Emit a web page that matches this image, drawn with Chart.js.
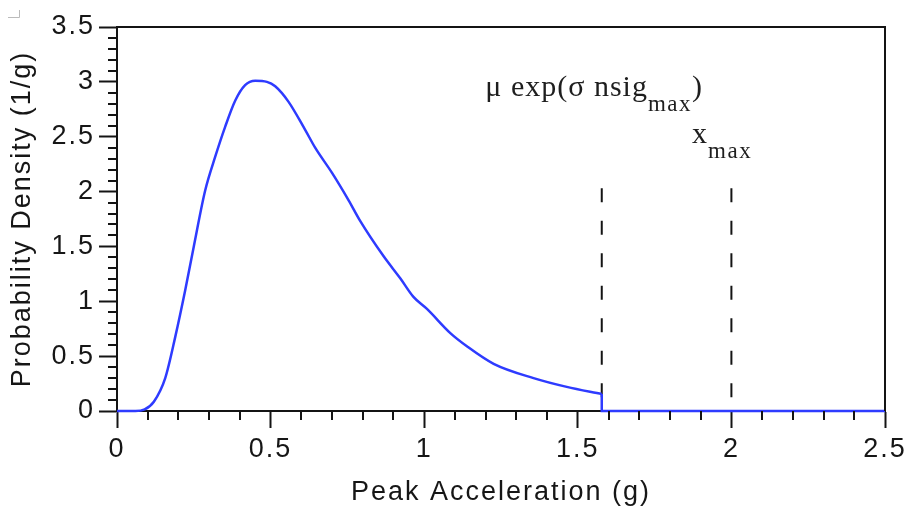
<!DOCTYPE html>
<html>
<head>
<meta charset="utf-8">
<script src="https://cdn.jsdelivr.net/npm/chart.js@4.4.1/dist/chart.umd.min.js"></script>
<style>
  html, body { margin: 0; padding: 0; background: #fff; }
  #wrap { position: relative; width: 911px; height: 509px; }
</style>
</head>
<body>
<div id="wrap"><canvas id="pdf-chart"></canvas></div>
<script>
// density curve (peak acceleration in g, density in 1/g)
var peakAccel = [0, 0.06, 0.09, 0.12, 0.157, 0.19, 0.222, 0.25, 0.287, 0.32, 0.352, 0.385, 0.417, 0.45,
                 0.488, 0.515, 0.558, 0.613, 0.645, 0.70, 0.754, 0.79, 0.868, 0.922, 0.965, 1.009,
                 1.085, 1.139, 1.226, 1.356, 1.464, 1.578];
var density = [0, 0, 0.015, 0.085, 0.30, 0.68, 1.10, 1.50, 2.01, 2.32, 2.59, 2.83, 2.97, 3.01,
               3.0, 2.96, 2.82, 2.56, 2.40, 2.17, 1.92, 1.74, 1.41, 1.21, 1.04, 0.93,
               0.71, 0.59, 0.43, 0.30, 0.22, 0.155];

// truncated tail: drop to zero and stay there
var tailX = [1.578, 1.578, 2.5];
var tailY = [0.155, 0, 0];

// vertical markers: mu*exp(sigma*nsig_max) and x_max
var markerX = [1.578, 2.0];
var markerTop = 2.03;

var xTickValues = [0, 0.5, 1, 1.5, 2, 2.5];
var yTickValues = [0, 0.5, 1, 1.5, 2, 2.5, 3, 3.5];
var minorStep = 0.1;

var ink = '#141414';
var textInk = '#161616';
var blue = '#2e3bff';

function pairs(xs, ys) {
    return xs.map(function (x, i) { return { x: x, y: ys[i] }; });
}

var datasets = [
    {
        data: pairs(peakAccel, density),
        borderColor: blue,
        borderWidth: 2.5,
        pointRadius: 0,
        cubicInterpolationMode: 'monotone',
        clip: false,
        order: 0
    },
    {
        data: pairs(tailX, tailY),
        borderColor: blue,
        borderWidth: 2.5,
        pointRadius: 0,
        tension: 0,
        clip: false,
        order: 0
    }
];
markerX.forEach(function (mx) {
    datasets.push({
        data: [{ x: mx, y: markerTop }, { x: mx, y: 0 }],
        borderColor: ink,
        borderWidth: 2,
        borderDash: [14, 18.5],
        pointRadius: 0,
        tension: 0,
        order: 1
    });
});

// minor ticks, top/right frame and the serif annotations
var decorations = {
    id: 'decorations',
    beforeDraw: function (chart) {
        chart.ctx.letterSpacing = '2px';
    },
    afterDraw: function (chart) {
        var ctx = chart.ctx;
        var xs = chart.scales.x, ys = chart.scales.y;
        var area = chart.chartArea;
        ctx.save();
        ctx.strokeStyle = ink;
        ctx.lineWidth = 2;

        // frame top and right
        ctx.beginPath();
        ctx.moveTo(area.left, area.top);
        ctx.lineTo(area.right, area.top);
        ctx.lineTo(area.right, area.bottom);
        ctx.stroke();

        // minor ticks
        ctx.beginPath();
        var i, v, p;
        for (i = 0; i <= 25; i++) {
            if (i % 5 === 0) continue;
            v = i * minorStep;
            p = Math.round(xs.getPixelForValue(v));
            ctx.moveTo(p, area.bottom);
            ctx.lineTo(p, area.bottom + 9);
        }
        for (i = 0; i <= 35; i++) {
            if (i % 5 === 0) continue;
            v = i * minorStep;
            p = Math.round(ys.getPixelForValue(v));
            ctx.moveTo(area.left, p);
            ctx.lineTo(area.left - 9, p);
        }
        ctx.stroke();

        // annotations
        var notes = [
            { x: 1.199, y: 2.874, parts: [['\u03bc exp(\u03c3 nsig', 0], ['max', 1], [')', 0]] },
            { x: 1.872, y: 2.443, parts: [['x', 0], ['max', 1]] }
        ];
        ctx.fillStyle = '#1e1e1e';
        ctx.textAlign = 'left';
        ctx.textBaseline = 'alphabetic';
        ctx.letterSpacing = '1px';
        notes.forEach(function (n) {
            var px = xs.getPixelForValue(n.x);
            var py = ys.getPixelForValue(n.y);
            n.parts.forEach(function (part) {
                var sub = part[1] === 1;
                ctx.font = (sub ? '23px' : '30px') + ' "Liberation Serif", serif';
                ctx.letterSpacing = sub ? '1.5px' : '1px';
                ctx.fillText(part[0], px, py + (sub ? 15 : 0));
                px += ctx.measureText(part[0]).width;
            });
        });

        // small corner mark at the top left
        ctx.strokeStyle = '#bbb';
        ctx.lineWidth = 1;
        ctx.beginPath();
        ctx.moveTo(8, 17.5);
        ctx.lineTo(19.5, 17.5);
        ctx.lineTo(19.5, 10);
        ctx.stroke();
        ctx.restore();
    }
};

var tickFont = { family: 'Liberation Sans', size: 27 };

new Chart(document.getElementById('pdf-chart').getContext('2d'), {
    type: 'line',
    data: { datasets: datasets },
    plugins: [decorations],
    options: {
        responsive: true,
        maintainAspectRatio: false,
        animation: false,
        devicePixelRatio: 1,
        layout: { padding: { left: 0, right: 26, top: 27, bottom: 0 } },
        plugins: {
            legend: { display: false },
            tooltip: { enabled: false }
        },
        scales: {
            x: {
                type: 'linear',
                min: 0,
                max: 2.5,
                afterBuildTicks: function (scale) {
                    scale.ticks = xTickValues.map(function (v) { return { value: v }; });
                },
                afterFit: function (scale) { scale.height = 98; },
                grid: {
                    display: true,
                    drawOnChartArea: false,
                    tickLength: 17,
                    tickWidth: 2,
                    tickColor: ink
                },
                border: { display: true, color: ink, width: 2 },
                ticks: {
                    font: tickFont,
                    color: textInk,
                    padding: 5,
                    maxRotation: 0,
                    autoSkip: false,
                    callback: function (v) { return String(v); }
                },
                title: {
                    display: true,
                    text: 'Peak Acceleration (g)',
                    font: tickFont,
                    color: textInk,
                    padding: { top: 2, bottom: 0 }
                }
            },
            y: {
                type: 'linear',
                min: 0,
                max: 3.5,
                afterBuildTicks: function (scale) {
                    scale.ticks = yTickValues.map(function (v) { return { value: v }; });
                },
                afterFit: function (scale) { scale.width = 117; },
                grid: {
                    display: true,
                    drawOnChartArea: false,
                    tickLength: 18,
                    tickWidth: 2,
                    tickColor: ink
                },
                border: { display: true, color: ink, width: 2 },
                ticks: {
                    font: tickFont,
                    color: textInk,
                    padding: 4,
                    autoSkip: false,
                    callback: function (v) { return String(v); }
                },
                title: {
                    display: true,
                    text: 'Probability Density (1/g)',
                    font: tickFont,
                    color: textInk,
                    padding: { top: 6, bottom: 0 }
                }
            }
        }
    }
});
</script>
</body>
</html>
